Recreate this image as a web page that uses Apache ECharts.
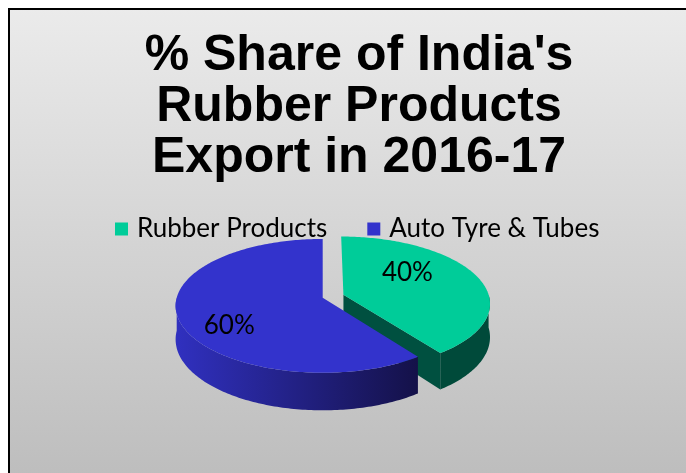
<!DOCTYPE html>
<html>
<head>
<meta charset="utf-8">
<script src="https://cdn.jsdelivr.net/npm/echarts@6/dist/echarts.min.js"></script>
<style>
  html, body { margin: 0; padding: 0; background: #ffffff; }
  #chart { width: 686px; height: 473px; }
</style>
</head>
<body>
<div id="chart"></div>
<script>
// Chart content
const titleLines = ["% Share of India's", "Rubber Products", "Export in 2016-17"];
const categories = ["Rubber Products", "Auto Tyre & Tubes"];
const shares = [40, 60];
const explodeBy = [0.15, 0];

// Colours: top face, side wall (light end, dark end), cut face
const topColors = ['#00cc99', '#3333cc'];
const wallColors = [['#006a50', '#004a3a'], ['#3030bf', '#141148']];
const cutColors = ['#005040', '#1a1760'];

// 3D pie layout (pixels)
const pie = { cx: 322.7, cy: 297.7, rx: 146, ry: 65.9, depth: 33, persp: 0.122 };
// percentage labels: angular shift and radius (fraction of the pie radius)
const labelPlace = { shift: -15.5, radius: 0.73 };

const DEG = Math.PI / 180;
const total = shares.reduce((a, b) => a + b, 0);

function project(X, Z, down) {
  const p = 1 / (1 + pie.persp * Z);
  return [pie.cx + pie.rx * X * p, pie.cy - pie.ry * Z * p + pie.depth * down * p];
}

function sliceAngles(i) {
  let start = 0;
  for (let k = 0; k < i; k++) start += shares[k];
  return [start / total * 360, (start + shares[i]) / total * 360];
}

function renderSlice(i) {
  return function (params, api) {
    const value = api.value(0);
    const [a0, a1] = sliceAngles(i);
    const mid = (a0 + a1) / 2;
    const ox = explodeBy[i] * Math.sin(mid * DEG);
    const oz = explodeBy[i] * Math.cos(mid * DEG);
    const rim = (t, down) => project(ox + Math.sin(t * DEG), oz + Math.cos(t * DEG), down);
    const apex = (down) => project(ox, oz, down);
    const children = [];

    const wallGrad = new echarts.graphic.LinearGradient(
      pie.cx - pie.rx, 0, pie.cx + pie.rx, 0,
      [{ offset: 0, color: wallColors[i][0] }, { offset: 0.83, color: wallColors[i][1] }, { offset: 1, color: wallColors[i][1] }],
      true
    );

    // cut faces whose outward side turns toward the viewer
    [[a0, a0 - 90], [a1, a1 + 90]].forEach(([a, n]) => {
      if (Math.cos(n * DEG) < -0.05) {
        children.push({
          type: 'polygon',
          shape: { points: [apex(0), rim(a, 0), rim(a, 1), apex(1)] },
          style: { fill: cutColors[i] }
        });
      }
    });

    // front part of the outer wall
    const w0 = Math.max(a0, 90), w1 = Math.min(a1, 270);
    if (w1 > w0) {
      const topPts = [], botPts = [];
      for (let t = w0; t <= w1 + 1e-6; t += 1) { topPts.push(rim(t, 0)); botPts.push(rim(t, 1)); }
      children.push({
        type: 'polygon',
        shape: { points: topPts.concat(botPts.reverse()) },
        style: { fill: wallGrad }
      });
    }

    // top face
    const face = [apex(0)];
    for (let t = a0; t <= a1 + 1e-6; t += 1) face.push(rim(t, 0));
    children.push({
      type: 'polygon',
      shape: { points: face },
      style: { fill: topColors[i] }
    });

    // percentage label
    const la = mid + labelPlace.shift, lr = labelPlace.radius;
    const lp = project(lr * Math.sin(la * DEG), lr * Math.cos(la * DEG), 0);
    children.push({
      type: 'text',
      style: {
        text: Math.round(value / total * 100) + '%',
        x: lp[0], y: lp[1],
        align: 'center', verticalAlign: 'middle',
        fill: '#000000',
        font: '26px Lato, "Open Sans", sans-serif'
      }
    });

    return { type: 'group', children: children };
  };
}

const chart = echarts.init(document.getElementById('chart'), null, { renderer: 'canvas' });

chart.setOption({
  animation: false,
  backgroundColor: '#ffffff',
  graphic: [{
    type: 'rect',
    z: -10,
    silent: true,
    shape: { x: 9, y: 9, width: 700, height: 490 },
    style: {
      fill: new echarts.graphic.LinearGradient(0, 0, 0, 1, [
        { offset: 0, color: '#ebebeb' },
        { offset: 1, color: '#bbbbbb' }
      ]),
      stroke: '#000000',
      lineWidth: 2
    }
  }],
  title: {
    text: titleLines.join('\n'),
    left: 354,
    top: 26,
    textAlign: 'center',
    textStyle: {
      fontFamily: '"Liberation Sans", Arial, sans-serif',
      fontWeight: 'bold',
      fontSize: 50,
      lineHeight: 51,
      color: '#000000'
    }
  },
  legend: {
    data: categories,
    left: 110,
    top: 210,
    icon: 'rect',
    itemWidth: 13,
    itemHeight: 13,
    itemGap: 40,
    textStyle: {
      fontFamily: 'Lato, "Open Sans", sans-serif',
      fontSize: 26,
      lineHeight: 28,
      color: '#000000',
      padding: [0, 0, 0, 4]
    }
  },
  series: categories.map((name, i) => ({
    type: 'custom',
    name: name,
    coordinateSystem: 'none',
    itemStyle: { color: topColors[i] },
    data: [[shares[i]]],
    renderItem: renderSlice(i)
  }))
});
</script>
</body>
</html>
